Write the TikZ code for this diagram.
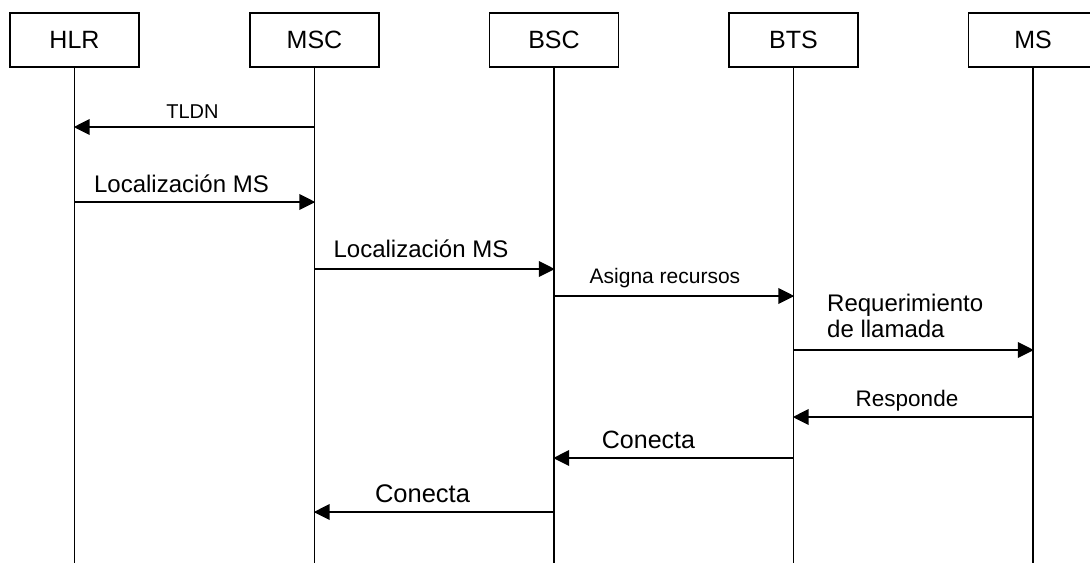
\documentclass[tikz,border=0pt]{standalone}
\usepackage{fontspec}
\setmainfont{Liberation Sans}
\usetikzlibrary{arrows.meta}
\tikzset{
    entity/.style={draw, line width=1.5pt, minimum width=129pt, minimum height=54pt, inner sep=0pt, font=\fontsize{25}{28}\selectfont},
    lifeline/.style={line width=1.6pt},
    msg/.style={line width=2pt, -{Triangle[length=16pt,width=15.5pt]}, shorten >=-0.8pt},
    lbl/.style={anchor=base, inner sep=0pt}
}
\begin{document}
\begin{tikzpicture}[x=1pt,y=-1pt]
            \useasboundingbox (0,0) rectangle (1090,563);
            % entidades
            \node[entity] (hlr) at (74.5,40) {HLR};
            \node[entity] (msc) at (314.5,40) {MSC};
            \node[entity] (bsc) at (554,40) {BSC};
            \node[entity] (bts) at (793.5,40) {BTS};
            \node[entity] (ms) at (1033,40) {MS};
            \foreach \e in {hlr,msc,bsc,bts,ms}
                \draw[lifeline] (\e.south) -- (\e |- 0,563);
            % mensajes
            \draw[msg] (msc |- 0,127) -- (hlr |- 0,127);
            \draw[msg] (hlr |- 0,202) -- (msc |- 0,202);
            \draw[msg] (msc |- 0,269) -- (bsc |- 0,269);
            \draw[msg] (bsc |- 0,296) -- (bts |- 0,296);
            \draw[msg] (bts |- 0,350) -- (ms |- 0,350);
            \draw[msg] (ms |- 0,417) -- (bts |- 0,417);
            \draw[msg] (bts |- 0,458) -- (bsc |- 0,458);
            \draw[msg] (bsc |- 0,512) -- (msc |- 0,512);
            % textos
            \node[lbl, font=\fontsize{20}{24}\selectfont] (tldn) at (192.5,118) {TLDN};
            \node[lbl, font=\fontsize{24}{28}\selectfont] (loc1) at (181.5,192) {Localización MS};
            \node[lbl, font=\fontsize{24}{28}\selectfont] (loc2) at (421,257) {Localización MS};
            \node[lbl, font=\fontsize{21}{24}\selectfont] (asig) at (665,283) {Asigna recursos};
            \node[lbl, anchor=base west, font=\fontsize{24}{26}\selectfont] (req) at (827,311) {Requerimiento};
            \node[lbl, anchor=base west, font=\fontsize{24}{26}\selectfont] (llam) at (827,337) {de llamada};
            \node[lbl, font=\fontsize{22.5}{26}\selectfont] (resp) at (907,406) {Responde};
            \node[lbl, font=\fontsize{25}{28}\selectfont] (con1) at (648.5,448) {Conecta};
            \node[lbl, font=\fontsize{25.5}{28}\selectfont] (con2) at (422.5,502) {Conecta};
\end{tikzpicture}
\end{document}
